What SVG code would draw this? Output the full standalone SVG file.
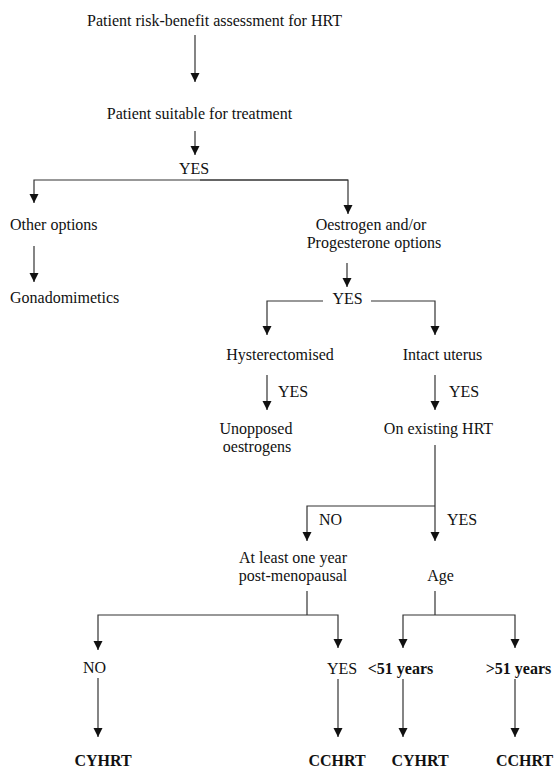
<svg xmlns="http://www.w3.org/2000/svg" width="555" height="769" viewBox="0 0 555 769">
<defs>
<marker id="ah" markerUnits="userSpaceOnUse" markerWidth="10" markerHeight="10" refX="9" refY="4.5" orient="auto">
<path d="M0,0 L9,4.5 L0,9 z" fill="#111"/>
</marker>
<style>
text{font-family:"Liberation Serif","Times New Roman",serif;font-size:16px;fill:#111;}
.m{text-anchor:middle;}
.b{font-weight:bold;}
.c line,.c path{stroke:#333;stroke-width:1.2;fill:none;}
.a{marker-end:url(#ah);}
</style>
</defs>
<rect width="555" height="769" fill="#fff"/>
<g class="c" id="connectors">
<line class="a" x1="195" y1="35" x2="195" y2="82"/>
<line class="a" x1="195" y1="131" x2="195" y2="155"/>
<path class="a" d="M348,180 H34 V203"/>
<path class="a" d="M200,180 H348 V214"/>
<line class="a" x1="34" y1="246" x2="34" y2="282"/>
<line class="a" x1="347" y1="263" x2="347" y2="287"/>
<path class="a" d="M323,301 H267 V335"/>
<path class="a" d="M371,301 H435 V335"/>
<line class="a" x1="267" y1="375" x2="267" y2="410"/>
<line class="a" x1="435" y1="375" x2="435" y2="410"/>
<line class="a" x1="435" y1="445" x2="435" y2="541"/>
<path class="a" d="M435,506 H307 V541"/>
<path d="M307,591 V615"/>
<path class="a" d="M307,615 H98 V650"/>
<path class="a" d="M307,615 H338 V648"/>
<path d="M435,591 V615"/>
<path class="a" d="M435,615 H403 V648"/>
<path class="a" d="M435,615 H515 V648"/>
<line class="a" x1="98" y1="678" x2="98" y2="737"/>
<line class="a" x1="338" y1="679" x2="338" y2="737"/>
<line class="a" x1="403" y1="679" x2="403" y2="737"/>
<line class="a" x1="515" y1="679" x2="515" y2="737"/>
</g>
<g id="n-assess"><text class="m" x="214.5" y="26">Patient risk-benefit assessment for HRT</text></g>
<g id="n-suitable"><text class="m" x="199.5" y="119">Patient suitable for treatment</text></g>
<g id="l-yes1"><text class="m" x="194" y="174">YES</text></g>
<g id="n-other"><text x="10" y="230">Other options</text></g>
<g id="n-gonado"><text x="10" y="303">Gonadomimetics</text></g>
<g id="n-oestro"><text class="m" x="371" y="230">Oestrogen and/or</text><text class="m" x="374" y="248">Progesterone options</text></g>
<g id="l-yes2"><text class="m" x="347.5" y="304">YES</text></g>
<g id="n-hyst"><text class="m" x="280" y="360">Hysterectomised</text></g>
<g id="n-intact"><text class="m" x="442.5" y="360">Intact uterus</text></g>
<g id="l-yes3"><text x="278" y="397">YES</text></g>
<g id="l-yes4"><text x="449" y="397">YES</text></g>
<g id="n-unopp"><text class="m" x="256" y="434">Unopposed</text><text class="m" x="257" y="452">oestrogens</text></g>
<g id="n-existing"><text class="m" x="438.5" y="434">On existing HRT</text></g>
<g id="l-no1"><text x="319" y="525">NO</text></g>
<g id="l-yes5"><text x="447" y="525">YES</text></g>
<g id="n-postmeno"><text class="m" x="293" y="563">At least one year</text><text class="m" x="293" y="581">post-menopausal</text></g>
<g id="n-age"><text class="m" x="440.5" y="581">Age</text></g>
<g id="n-no"><text class="m" x="94.5" y="673">NO</text></g>
<g id="n-yes"><text class="m" x="342" y="674">YES</text></g>
<g id="n-lt51"><text class="m b" x="400.5" y="674">&lt;51 years</text></g>
<g id="n-gt51"><text class="m b" x="518.5" y="674">&gt;51 years</text></g>
<g id="n-cyhrt1"><text class="m b" x="103" y="766">CYHRT</text></g>
<g id="n-cchrt1"><text class="m b" x="337" y="766">CCHRT</text></g>
<g id="n-cyhrt2"><text class="m b" x="420" y="766">CYHRT</text></g>
<g id="n-cchrt2"><text class="m b" x="524.5" y="766">CCHRT</text></g>
</svg>
